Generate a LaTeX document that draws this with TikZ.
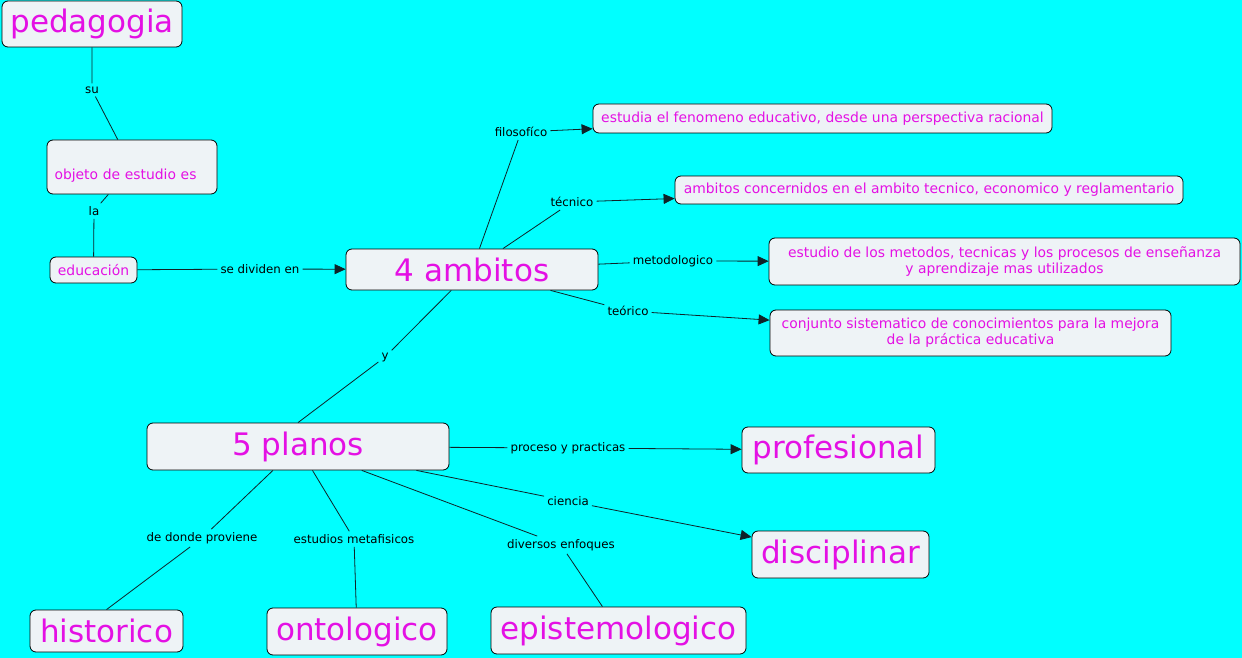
\documentclass[tikz,border=0pt]{standalone}
\usepackage{fontspec}
\setmainfont{DejaVu Sans}
\usetikzlibrary{arrows.meta}
\definecolor{fondo}{RGB}{0,255,255}
\definecolor{caja}{RGB}{238,243,246}
\definecolor{rosa}{RGB}{228,16,228}
\definecolor{trazo}{RGB}{15,35,40}
\begin{document}
\begin{tikzpicture}[x=1pt, y=-1pt, >={Triangle[length=11pt,width=10pt]},
    concepto/.style={draw, rounded corners=6pt, fill=caja, text=rosa, line width=0.8pt, inner sep=0pt},
    grande/.style={concepto, font=\fontsize{31}{36}\selectfont},
    chico/.style={concepto, font=\fontsize{13.9}{16}\selectfont, align=center},
    enlace/.style={font=\fontsize{11.8}{14}\selectfont, inner sep=3pt},
    linea/.style={draw=trazo, line width=0.8pt}]
    \fill[fondo] (0,0) rectangle (1242,658);
    \useasboundingbox (0,0) rectangle (1242,658);

    % conceptos
    \node[grande, minimum width=180pt, minimum height=46pt] (pedagogia) at (92,24) {pedagogia};
    \node[chico, minimum width=170pt, minimum height=54pt, text width=155pt, align=left] (objeto) at (132,167) {\strut\\objeto de estudio es};
    \node[chico, minimum width=87pt, minimum height=26pt] (educacion) at (93.5,270) {educación};
    \node[grande, minimum width=252pt, minimum height=41pt] (ambitos) at (472,269.5) {4 ambitos};
    \node[chico, minimum width=459pt, minimum height=29pt] (estudia) at (822.5,118.5) {estudia el fenomeno educativo, desde una perspectiva racional};
    \node[chico, minimum width=508pt, minimum height=28pt] (concernidos) at (929,190) {ambitos concernidos en el ambito tecnico, economico y reglamentario};
    \node[chico, minimum width=471pt, minimum height=47pt] (metodos) at (1004.5,261.5) {estudio de los metodos, tecnicas y los procesos de enseñanza\\y aprendizaje mas utilizados};
    \node[chico, minimum width=401pt, minimum height=46pt] (conjunto) at (970.5,333) {conjunto sistematico de conocimientos para la mejora\\de la práctica educativa};
    \node[grande, minimum width=302pt, minimum height=47pt] (planos) at (298,446.5) {5 planos};
    \node[grande, minimum width=193pt, minimum height=46pt] (profesional) at (838.5,450) {profesional};
    \node[grande, minimum width=177pt, minimum height=47pt] (disciplinar) at (840.5,554.5) {disciplinar};
    \node[grande, minimum width=153pt, minimum height=42pt] (historico) at (106.5,631) {historico};
    \node[grande, minimum width=180pt, minimum height=47pt] (ontologico) at (357,631.5) {ontologico};
    \node[grande, minimum width=255pt, minimum height=47pt] (epistemologico) at (618.5,630.5) {epistemologico};

    % palabras de enlace
    \node[enlace] (lsu) at (92,90) {su};
    \node[enlace] (lla) at (94,211) {la};
    \node[enlace] (ldividen) at (260,269) {se dividen en};
    \node[enlace] (lfilo) at (521,132) {filosofíco};
    \node[enlace] (ltec) at (572,202) {técnico};
    \node[enlace] (lmetodo) at (673,261) {metodologico};
    \node[enlace] (lteor) at (628,311) {teórico};
    \node[enlace] (ly) at (385,357) {y};
    \node[enlace] (lproceso) at (568,448) {proceso y practicas};
    \node[enlace] (lciencia) at (568,501) {ciencia};
    \node[enlace] (lenfoques) at (561,545) {diversos enfoques};
    \node[enlace] (lproviene) at (202,538) {de donde proviene};
    \node[enlace] (lmeta) at (354,539) {estudios metafisicos};

    % enlaces
    \draw[linea] (pedagogia) -- (lsu) -- (objeto);
    \draw[linea] (objeto) -- (lla) -- (educacion);
    \draw[linea, ->] (educacion) -- (ldividen) -- (ambitos);
    \draw[linea, ->] (ambitos) -- (lfilo) -- (estudia);
    \draw[linea, ->] (ambitos) -- (ltec) -- (concernidos);
    \draw[linea, ->] (ambitos) -- (lmetodo) -- (metodos);
    \draw[linea, ->] (ambitos) -- (lteor) -- (conjunto);
    \draw[linea] (ambitos) -- (ly) -- (planos.north);
    \draw[linea, ->] (planos) -- (lproceso) -- (profesional);
    \draw[linea, ->] (planos) -- (lciencia) -- (disciplinar);
    \draw[linea] (planos) -- (lenfoques) -- (epistemologico);
    \draw[linea] (planos) -- (lproviene) -- (historico.north);
    \draw[linea] (planos) -- (lmeta) -- (ontologico);
\end{tikzpicture}
\end{document}
